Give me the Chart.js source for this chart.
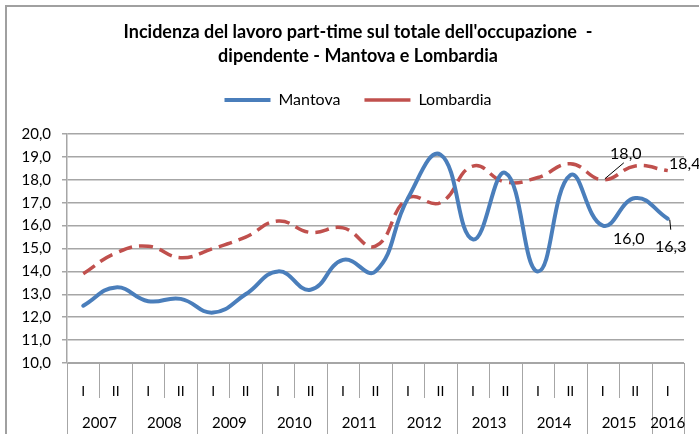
<!DOCTYPE html>
<html>
<head>
<meta charset="utf-8">
<script src="https://cdn.jsdelivr.net/npm/chart.js@4"></script>
<style>
  html, body { margin: 0; padding: 0; background: #fff; }
  #wrap { width: 699px; height: 434px; position: relative; }
</style>
</head>
<body>
<div id="wrap"><canvas id="myChart" width="699" height="434"></canvas></div>
<script>
// semestri e anni
var semesters = ['I','II','I','II','I','II','I','II','I','II','I','II','I','II','I','II','I','II','I']
var years = ['2007','2008','2009','2010','2011','2012','2013','2014','2015','2016']
var yearSpan = [2,2,2,2,2,2,2,2,2,1]

// valori
var mantova = [12.5,13.3,12.7,12.8,12.2,13.0,14.0,13.2,14.5,14.0,17.2,19.1,15.4,18.3,14.0,18.2,16.0,17.2,16.3]
var lombardia = [13.9,14.8,15.1,14.6,15.0,15.5,16.2,15.7,15.9,15.1,17.2,17.0,18.6,17.9,18.1,18.7,18.0,18.6,18.4]

var yMin = 10, yMax = 20, yStep = 1

// etichette dati mostrate (dataset, indice, spostamento, linea guida)
var pointLabels = [
    {ds: 1, i: 16, dx: 23, dy: -26, leader: [2, -1, 21, -17]},
    {ds: 1, i: 18, dx: 17, dy: -7},
    {ds: 0, i: 16, dx: 26, dy: 13},
    {ds: 0, i: 18, dx: 3, dy: 28, leader: [2, 1, 3, 11]}
]

var fmt = function(v){ return v.toFixed(1).replace('.', ',') }
var FONT = 'Lato'
var GRID = '#a6a6a6'

var framePlugin = {
    id: 'frame',
    beforeLayout: function(chart){
        // altezza della legenda fissata
        if (chart.legend && !chart.legend._patched) {
            var orig = chart.legend.fit
            chart.legend.fit = function(){ orig.call(this); this.height += 16 }
            chart.legend._patched = true
        }
    },
    beforeDraw: function(chart){
        var ctx = chart.ctx
        ctx.save()
        ctx.strokeStyle = '#a0a0a0'
        ctx.lineWidth = 2
        ctx.beginPath()
        ctx.moveTo(6, 434); ctx.lineTo(6, 6); ctx.lineTo(699, 6)
        ctx.stroke()
        ctx.restore()
    },
    afterDraw: function(chart){
        var ctx = chart.ctx
        var x = chart.scales.x
        var area = chart.chartArea
        var n = semesters.length
        var bounds = [x.left]
        for (var i = 1; i < n; i++) {
            bounds.push((x.getPixelForValue(i - 1) + x.getPixelForValue(i)) / 2)
        }
        bounds.push(x.right)
        ctx.save()
        ctx.strokeStyle = GRID
        ctx.lineWidth = 1
        // separatori semestri / anni
        var k = 0, yearBounds = [0]
        for (var y = 0; y < yearSpan.length; y++) { k += yearSpan[y]; yearBounds.push(k) }
        for (var b = 0; b <= n; b++) {
            var isYear = yearBounds.indexOf(b) >= 0
            var px = Math.round(bounds[b]) + 0.5
            ctx.beginPath()
            ctx.moveTo(px, area.bottom)
            ctx.lineTo(px, isYear ? chart.height : area.bottom + 35)
            ctx.stroke()
        }
        ctx.fillStyle = '#000'
        ctx.font = '15px ' + FONT
        ctx.textAlign = 'center'
        ctx.textBaseline = 'middle'
        for (var j = 0; j < years.length; j++) {
            var cx = (bounds[yearBounds[j]] + bounds[yearBounds[j + 1]]) / 2
            ctx.fillText(years[j], cx, area.bottom + 60)
        }
        ctx.restore()
    },
    afterDatasetsDraw: function(chart){
        var ctx = chart.ctx
        ctx.save()
        ctx.font = '16px ' + FONT
        ctx.fillStyle = '#000'
        ctx.strokeStyle = '#000'
        ctx.lineWidth = 1
        ctx.textAlign = 'center'
        ctx.textBaseline = 'middle'
        pointLabels.forEach(function(l){
            var pt = chart.getDatasetMeta(l.ds).data[l.i]
            var v = chart.data.datasets[l.ds].data[l.i]
            if (l.leader) {
                ctx.beginPath()
                ctx.moveTo(pt.x + l.leader[0], pt.y + l.leader[1])
                ctx.lineTo(pt.x + l.leader[2], pt.y + l.leader[3])
                ctx.stroke()
            }
            ctx.fillText(fmt(v), pt.x + l.dx, pt.y + l.dy)
        })
        ctx.restore()
    }
}

var chart = new Chart(document.getElementById('myChart').getContext('2d'), {
    type: 'line',
    data: {
        labels: semesters,
        datasets: [
            {
                label: 'Mantova',
                data: mantova,
                borderColor: '#4a7ebb',
                backgroundColor: '#4a7ebb',
                borderWidth: 4,
                pointRadius: 0,
                tension: 0.45,
                borderCapStyle: 'round'
            },
            {
                label: 'Lombardia',
                data: lombardia,
                borderColor: '#c0504d',
                backgroundColor: '#c0504d',
                borderWidth: 3.5,
                borderDash: [14, 7],
                pointRadius: 0,
                tension: 0.45
            }
        ]
    },
    options: {
        responsive: false,
        animation: false,
        layout: { padding: { left: 17, right: 0, top: 0, bottom: 0 } },
        plugins: {
            title: {
                display: true,
                text: ["Incidenza del lavoro part-time sul totale dell'occupazione  -", 'dipendente - Mantova e Lombardia'],
                color: '#000',
                font: { family: FONT, size: 18, weight: 'bold', lineHeight: 1.333 },
                padding: { top: 20, bottom: 0 }
            },
            legend: {
                display: true,
                labels: {
                    usePointStyle: true,
                    pointStyle: 'line',
                    pointStyleWidth: 46,
                    boxHeight: 16,
                    padding: 24,
                    color: '#000',
                    font: { family: FONT, size: 16 }
                }
            },
            tooltip: { enabled: false }
        },
        scales: {
            x: {
                offset: true,
                grid: { display: false },
                border: { display: true, color: GRID, width: 1 },
                ticks: { color: '#000', font: { family: FONT, size: 14 }, padding: 12, maxRotation: 0, autoSkip: false },
                afterFit: function(s){ s.height = 71 }
            },
            y: {
                min: yMin,
                max: yMax,
                ticks: { stepSize: yStep, color: '#000', font: { family: FONT, size: 15 }, padding: 11, callback: fmt },
                grid: { color: GRID, lineWidth: 1.5, tickLength: 5 },
                border: { display: true, color: GRID, width: 1.5 },
                afterFit: function(s){ s.width = 50 }
            },
            yRight: {
                position: 'right',
                display: true,
                ticks: { display: false },
                grid: { display: false },
                border: { display: false },
                afterFit: function(s){ s.width = 15 }
            }
        }
    },
    plugins: [framePlugin]
})
</script>
</body>
</html>
